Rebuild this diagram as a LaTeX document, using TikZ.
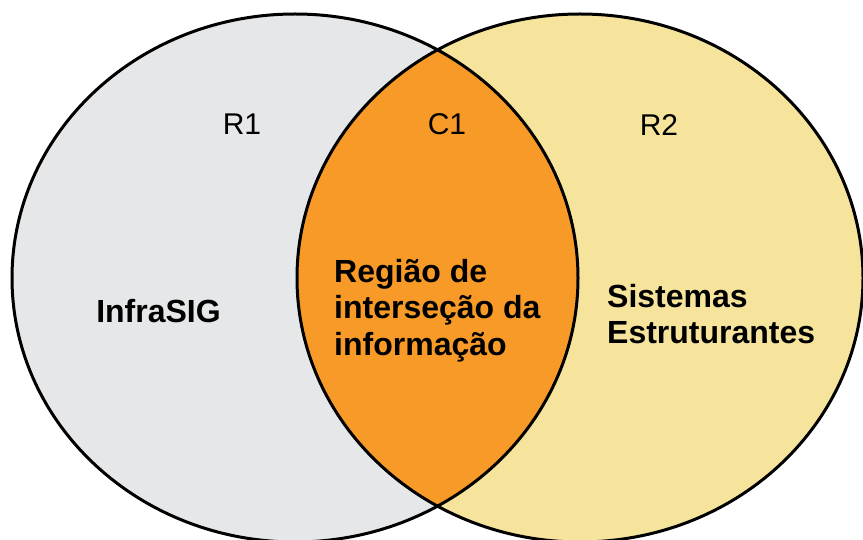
\documentclass[tikz,border=0pt]{standalone}
\usepackage{fontspec}
\setmainfont{Liberation Sans}
\definecolor{leftgray}{HTML}{E6E7E8}
\definecolor{rightyellow}{HTML}{F6E49C}
\definecolor{midorange}{HTML}{F79A27}
\begin{document}
\begin{tikzpicture}[x=1pt,y=1pt,
  outline/.style={draw=black,line width=3pt},
  lbl/.style={inner sep=0pt,font=\fontsize{30}{34}\selectfont},
  bold/.style={inner sep=0pt,align=left,font=\fontsize{32}{36.5}\selectfont\bfseries}]
\useasboundingbox (0,0) rectangle (863,539);
\coordinate (cl) at (295,261);
\coordinate (cr) at (580,261);
\fill[leftgray] (cl) ellipse [x radius=283, y radius=264];
\fill[rightyellow] (cr) ellipse [x radius=283, y radius=264];
\begin{scope}
  \clip (cl) ellipse [x radius=283, y radius=264];
  \fill[midorange] (cr) ellipse [x radius=283, y radius=264];
\end{scope}
\draw[outline] (cl) ellipse [x radius=283, y radius=264];
\draw[outline] (cr) ellipse [x radius=283, y radius=264];
\node[lbl] (r1) at (242,415) {R1};
\node[lbl] (c1) at (447,415) {C1};
\node[lbl] (r2) at (659,414) {R2};
\node[bold] (infra) at (158.5,228) {InfraSIG};
\node[bold,anchor=west] (regiao) at (334,228.5) {Região de\\interseção da\\informação};
\node[bold,anchor=west] (sistemas) at (607,225) {Sistemas\\Estruturantes};
\end{tikzpicture}
\end{document}
